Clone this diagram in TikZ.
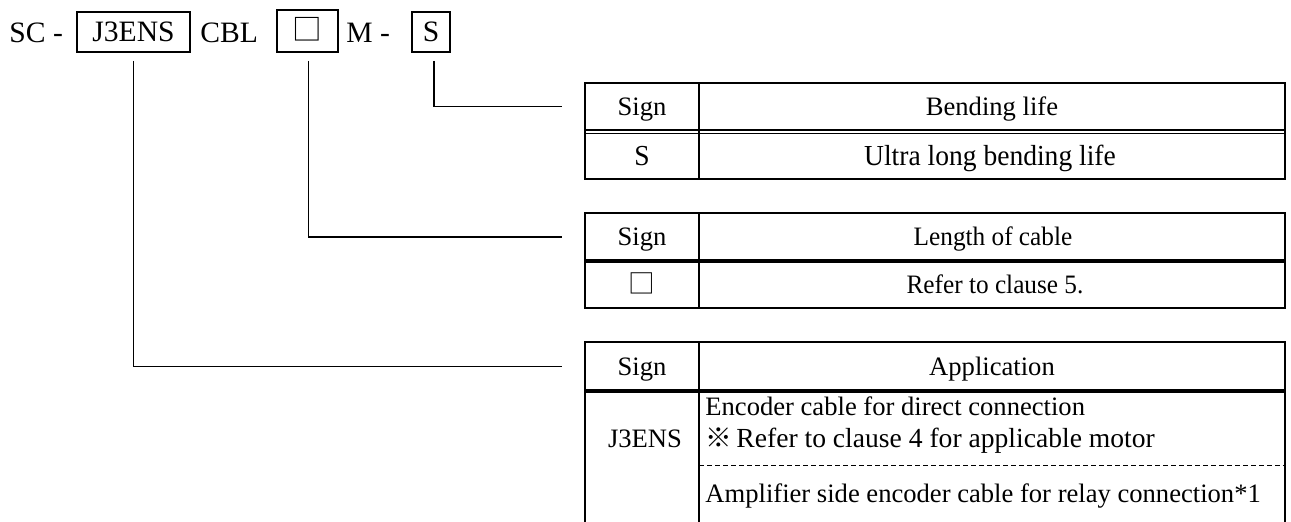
\documentclass[tikz,border=0pt]{standalone}
\usepackage{fontspec}
\setmainfont{Liberation Serif}
\newfontfamily\cjk{Noto Sans CJK JP}
\newfontfamily\slimfont[FakeStretch=0.95]{Liberation Serif}
\newcommand\codefont{\fontsize{14.8}{17}\selectfont}
\newcommand\cellfont{\fontsize{13.3}{16}\selectfont}
\tikzset{
  code/.style={font=\codefont, anchor=base west, inner sep=0},
  codebox/.style={draw, line width=1pt, font=\codefont, inner sep=0,
                  text height=10pt, text depth=0pt},
  leader/.style={line width=0.7pt},
  frame/.style={line width=1.2pt},
  headrule/.style={line width=2pt},
  cell/.style={font=\cellfont, inner sep=0, text height=10pt, text depth=1pt},
  bigcell/.style={cell, font=\fontsize{14.5}{17}\selectfont\slimfont},
  note/.style={cell, anchor=west}
}
\begin{document}
\begin{tikzpicture}[x=0.5pt,y=-0.5pt]
\useasboundingbox (0,0) rectangle (1291,522);
\node[code] (sc) at (9,43) {SC -};
\node[codebox, minimum width=56.5pt, minimum height=20pt] (j3) at (133.5,32) {J3ENS};
\node[code] (cbl) at (200,43) {CBL};
\node[codebox, minimum width=30.5pt, minimum height=21pt] (len) at (307.5,31) {\cjk □};
\node[code] (m) at (346,43) {M -};
\node[codebox, minimum width=19pt, minimum height=20pt] (bend) at (431,32) {S};

\coordinate (bendIn) at (562,106.5);
\coordinate (lenIn) at (562,237);
\coordinate (appIn) at (562,366.5);
\draw[leader] ([xshift=1.5pt,yshift=-4pt]bend.south) |- (bendIn);
\draw[leader] ([xshift=0.5pt,yshift=-4pt]len.south) |- (lenIn);
\draw[leader] ([yshift=-4pt]j3.south) |- (appIn);

\draw[frame] (585,83) rectangle (1285,179) (699,83) -- (699,179);
\draw[leader] (585,130) -- (1285,130) (585,133.5) -- (1285,133.5);
\node[cell] (bendSignHead) at (642,106.5) {Sign};
\node[cell] (bendHead) at (992,106.5) {Bending life};
\node[bigcell] (bendSign) at (642,157) {S};
\node[bigcell] (bendText) at (990,157) {Ultra long bending life};

\draw[frame] (585,213) rectangle (1285,308) (699,213) -- (699,308);
\draw[headrule] (585,261) -- (1285,261);
\node[cell] (lenSignHead) at (642,237) {Sign};
\node[cell, font=\cellfont\slimfont] (lenHead) at (993,237) {Length of cable};
\node[cell] (lenSign) at (642,285) {\cjk □};
\node[cell, font=\cellfont\slimfont] (lenText) at (995,285) {Refer to clause 5.};

\draw[frame] (585,522) |- (1285,342) -- (1285,522) (699,342) -- (699,522);
\draw[headrule] (585,391) -- (1285,391);
\draw[line width=0.5pt, dash pattern=on 2.5pt off 1.5pt] (699,466) -- (1285,466);
\node[cell] (appSignHead) at (642,366.5) {Sign};
\node[cell] (appHead) at (992,366.5) {Application};
\node[cell] (appSign) at (645,439) {J3ENS};
\node[note] (appDirect) at (705,407) {Encoder cable for direct connection};
\node[note] (appMotor) at (705,439) {{\cjk ※}\,{\fontsize{13.8}{16}\selectfont Refer to clause 4 for applicable motor}};
\node[note] (appRelay) at (705,494) {Amplifier side encoder cable for relay connection*1};
\end{tikzpicture}
\end{document}
